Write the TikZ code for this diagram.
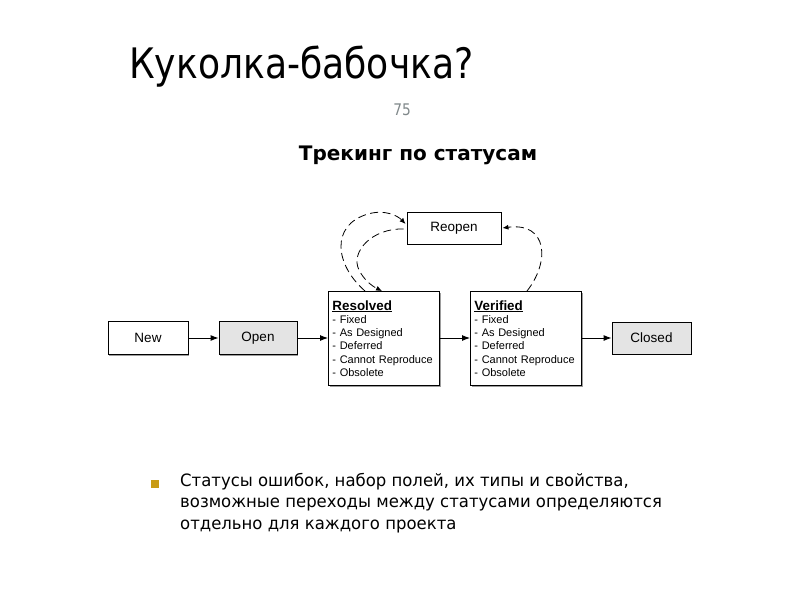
\documentclass[tikz,border=0pt]{standalone}
\usepackage{fontspec}
\setmainfont{DejaVu Sans}[FakeStretch=0.86]
\newfontfamily\bodyfont{DejaVu Sans}[FakeStretch=0.97]
\newfontfamily\subfont{DejaVu Sans}
\newfontfamily\diag{Liberation Sans}
\usetikzlibrary{arrows.meta,calc,shadows}
\definecolor{boxgray}{HTML}{E4E4E4}
\definecolor{bulletgold}{HTML}{C89B14}
\definecolor{numgray}{HTML}{80888A}
\tikzset{
  every node/.style={inner sep=0pt},
  statebox/.style={draw=black, line width=0.9pt, fill=white, minimum height=33pt,
    font=\diag\fontsize{13.5}{15}\selectfont,
    drop shadow={shadow xshift=1.2pt, shadow yshift=-1.2pt, fill=black!55, opacity=0.7}},
  listbox/.style={draw=black, line width=0.9pt, fill=white, anchor=north west,
    minimum width=111pt, minimum height=94pt, text width=103pt, inner xsep=4pt, align=left,
    font=\diag\fontsize{11}{13.3}\selectfont,
    drop shadow={shadow xshift=1.2pt, shadow yshift=-1.2pt, fill=black!55, opacity=0.7}},
  flow/.style={line width=0.9pt, -{Latex[length=8pt,width=6pt]}},
  loop/.style={line width=0.8pt, dash pattern=on 8pt off 4.5pt, -{Latex[length=6pt,width=5pt]}}
}
\newcommand{\hdr}[1]{\underline{\fontsize{13.4}{13.3}\selectfont\textbf{#1}}}
\begin{document}
\begin{tikzpicture}[x=1pt,y=-1pt]
\useasboundingbox (0,0) rectangle (800,600);
% titles
\node[anchor=base west, font=\fontsize{42}{46}\selectfont] (title) at (129,78) {Куколка-бабочка?};
\node[anchor=base, font=\fontsize{16}{18}\selectfont, text=numgray] (num) at (402,115) {75};
\node[anchor=base, font=\subfont\bfseries\fontsize{20}{22}\selectfont] (sub) at (418,160) {Трекинг по статусам};
% states
\node[statebox, minimum width=80pt] (new) at (148,338) {New};
\node[statebox, minimum width=78pt, fill=boxgray] (open) at (258,338) {Open};
\node[listbox] (res) at (328,291) {\hdr{Resolved}\\- Fixed\\- As Designed\\- Deferred\\- Cannot Reproduce\\- Obsolete};
\node[listbox] (ver) at (470,291) {\hdr{Verified}\\- Fixed\\- As Designed\\- Deferred\\- Cannot Reproduce\\- Obsolete};
\node[statebox, minimum width=79pt, minimum height=32pt, fill=boxgray] (closed) at (651.5,338) {Closed};
\node[statebox, minimum width=94pt, minimum height=32pt] (reo) at (454,228) {Reopen};
% flow arrows
\draw[flow] (new.east) -- (open.west);
\draw[flow] (open.east) -- (open.east -| res.west);
\draw[flow] ($(res.north east)+(0,47)$) -- ($(ver.north west)+(0,47)$);
\draw[flow] (ver.east |- closed.west) -- (closed.west);
% dashed loops
\coordinate (r1) at ($(res.north west)+(37,0)$);
\coordinate (r2) at ($(res.north west)+(54,0)$);
\coordinate (v1) at ($(ver.north west)+(57,0)$);
\draw[loop] (r1) .. controls (335,265) and (330,225) .. (368,214) .. controls (385,209) and (398,216) .. ($(reo.west)+(-1,-4)$);
\draw[loop] ($(reo.west)+(-3,1)$) .. controls (372,228) and (350,252) .. (359,270) .. controls (364,280) and (372,286) .. (r2);
\draw[loop] (v1) .. controls (550,262) and (548,222) .. ($(reo.east)+(1,0)$);
% bullet
\fill[bulletgold] (151,480) rectangle (158.5,487.5);
\node[anchor=north west, align=left, font=\bodyfont\fontsize{17}{21.5}\selectfont] (txt) at (180,473) {Статусы ошибок, набор полей, их типы и свойства,\\возможные переходы между статусами определяются\\отдельно для каждого проекта};
\end{tikzpicture}
\end{document}
